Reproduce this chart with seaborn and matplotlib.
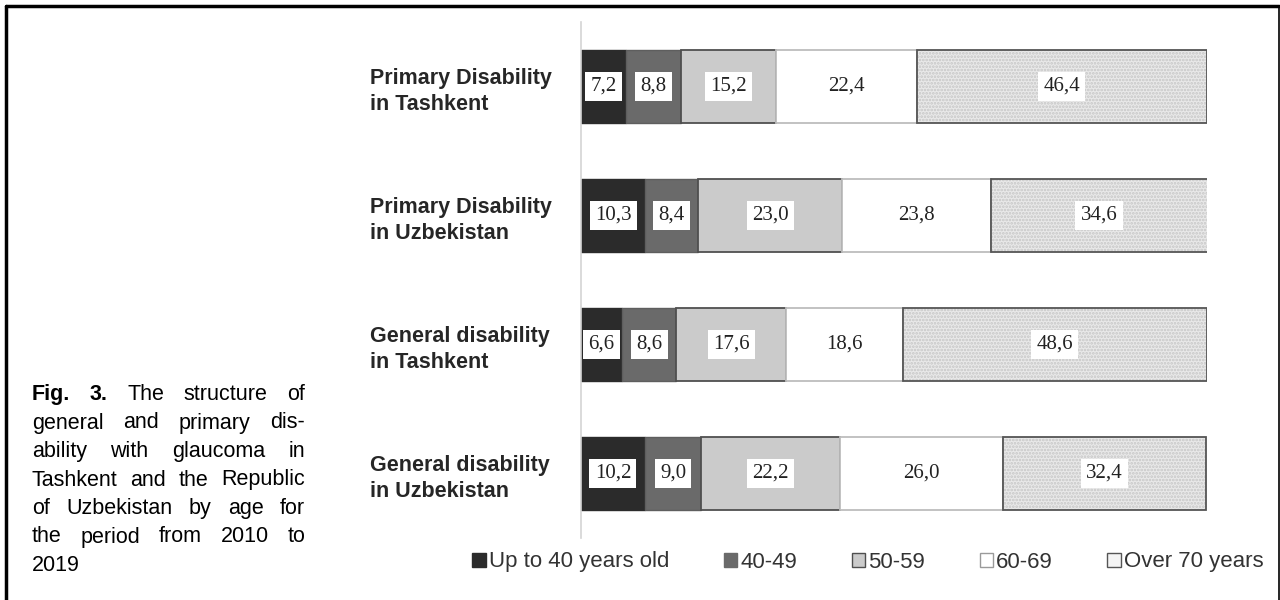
import numpy as np
import pandas as pd
import seaborn as sns
import matplotlib.pyplot as plt
from matplotlib.patches import Patch, Rectangle
from matplotlib.lines import Line2D


# data
groups = ['Primary Disability\nin Tashkent', 'Primary Disability\nin Uzbekistan',
          'General disability\nin Tashkent', 'General disability\nin Uzbekistan']
age_groups = ['Up to 40 years old', '40-49', '50-59', '60-69', 'Over 70 years']
up_to_40 = [7.2, 10.3, 6.6, 10.2]
age_40_49 = [8.8, 8.4, 8.6, 9.0]
age_50_59 = [15.2, 23.0, 17.6, 22.2]
age_60_69 = [22.4, 23.8, 18.6, 26.0]
over_70 = [46.4, 34.6, 48.6, 32.4]

caption = [
    [('Fig.', True), ('3.', True), ('The', False), ('structure', False), ('of', False)],
    [('general', False), ('and', False), ('primary', False), ('dis-', False)],
    [('ability', False), ('with', False), ('glaucoma', False), ('in', False)],
    [('Tashkent', False), ('and', False), ('the', False), ('Republic', False)],
    [('of', False), ('Uzbekistan', False), ('by', False), ('age', False), ('for', False)],
    [('the', False), ('period', False), ('from', False), ('2010', False), ('to', False)],
    [('2019', False)],
]

###############################################################################

series = [up_to_40, age_40_49, age_50_59, age_60_69, over_70]
rows = []
for age, vals in zip(age_groups, series):
    for g, v in zip(groups, vals):
        rows.append({'group': g, 'age': age, 'value': v})
df = pd.DataFrame(rows)

# styles per age group
styles = {
    'Up to 40 years old': dict(color='#2b2b2b', edgecolor='#2b2b2b', linewidth=1.0),
    '40-49': dict(color='#6a6a6a', edgecolor='#5e5e5e', linewidth=1.0),
    '50-59': dict(color='#cbcbcb', edgecolor='#4f4f4f', linewidth=1.3),
    '60-69': dict(color='#ffffff', edgecolor='#bdbdbd', linewidth=1.3),
    'Over 70 years': dict(color='#e9e9e9', edgecolor='#c6c6c6', linewidth=0, hatch='.....'),
}

sns.set_style('white')
plt.rcParams['font.family'] = ['Liberation Sans', 'DejaVu Sans']
plt.rcParams['hatch.linewidth'] = 1.3

fig = plt.figure(figsize=(12.8, 6), dpi=100)
W, H = 1280, 600
ax = fig.add_axes([581 / W, 1 - 538 / H, (1207 - 581) / W, 516 / H])

left = np.zeros(len(groups))
for age in age_groups:
    sub = df[df['age'] == age]
    sns.barplot(data=sub, x='value', y='group', order=groups, orient='h',
                left=left.copy(), width=0.57, saturation=1, errorbar=None,
                ax=ax, **styles[age])
    cont = ax.containers[-1]
    if age == 'Over 70 years':
        # outline on top of the dotted fill
        for p in cont.patches:
            ax.add_patch(Rectangle(p.get_xy(), p.get_width(), p.get_height(),
                                   fill=False, ec='#555555', lw=1.3, zorder=3))
    labels = [f'{v:.1f}'.replace('.', ',') for v in sub['value']]
    ax.bar_label(cont, labels=labels, label_type='center', fontsize=15,
                 family=['Liberation Serif', 'DejaVu Serif'], color='#222222', zorder=4,
                 bbox=dict(boxstyle='square,pad=0.25', fc='white', ec='none'))
    left += sub['value'].to_numpy()

ax.set_xlim(0, 100)
ax.set_ylim(3.5, -0.5)
ax.set_xlabel('')
ax.set_ylabel('')
ax.set_xticks([])
ax.set_yticks(range(len(groups)))
ax.set_yticklabels(groups, ha='left', fontsize=15.5, fontweight='bold', color='#262626',
                   linespacing=1.3)
ax.set_yticks(np.arange(-0.5, len(groups), 1.0), minor=True)
ax.tick_params(axis='y', which='major', length=0, pad=(581 - 370) * 0.72)
ax.tick_params(axis='y', which='minor', length=5, width=1, color='#d4d4d4')
for s in ['top', 'right', 'bottom']:
    ax.spines[s].set_visible(False)
ax.spines['left'].set_color('#d4d4d4')
ax.spines['left'].set_linewidth(1.2)

# legend
handles = [Patch(fc=styles[a]['color'], ec=e, lw=1.0)
           for a, e in zip(age_groups, ['#2b2b2b', '#6a6a6a', '#4f4f4f', '#9a9a9a', '#555555'])]
handles[-1] = Patch(fc='#f4f4f4', ec='#555555', lw=1.0)
leg = fig.legend(handles, age_groups, loc='center', bbox_to_anchor=(868 / W, 1 - 562 / H),
                 ncol=5, frameon=False, fontsize=16, handlelength=0.6, handleheight=0.6,
                 handletextpad=0.15, columnspacing=2.45, labelcolor='#333333')

# justified caption on the left
r = fig.canvas.get_renderer()
x0, x1 = 32, 305
for k, words in enumerate(caption):
    yb = 1 - (400 + 28.5 * k) / H
    arts = [fig.text(0, yb, w, fontsize=15.5, va='baseline', ha='left', color='black',
                     fontweight='bold' if b else 'normal') for w, b in words]
    widths = [a.get_window_extent(r).width for a in arts]
    if k == len(caption) - 1 or len(arts) == 1:
        gap = 6
    else:
        gap = (x1 - x0 - sum(widths)) / (len(arts) - 1)
    x = x0
    for a, w in zip(arts, widths):
        a.set_x(x / W)
        x += w + gap

# frame around the figure
for xs, ys, lw in [([6 / W, 6 / W], [0, 1 - 6 / H], 2.5),
                   ([6 / W, 1279 / W], [1 - 6 / H, 1 - 6 / H], 2.5),
                   ([1279 / W, 1279 / W], [0, 1 - 6 / H], 1.2)]:
    fig.add_artist(Line2D(xs, ys, transform=fig.transFigure, color='black', lw=lw))

plt.savefig('out.png', dpi=100)
plt.close()
